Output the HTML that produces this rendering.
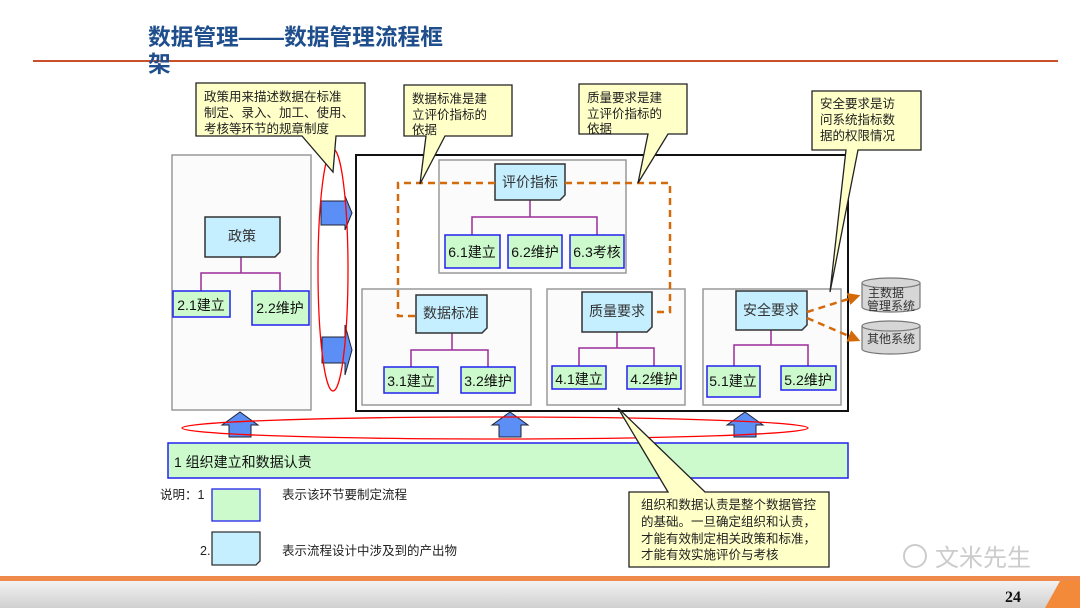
<!DOCTYPE html>
<html><head><meta charset="utf-8"><style>
body{margin:0;width:1080px;height:608px;overflow:hidden;background:#fff;font-family:"Liberation Sans","Noto Sans CJK SC",sans-serif}
svg text{font-family:"Liberation Sans","Noto Sans CJK SC",sans-serif}
.s{font-family:"Liberation Serif","Noto Serif CJK SC",serif}
</style></head><body>
<svg width="1080" height="608" viewBox="0 0 1080 608" xmlns="http://www.w3.org/2000/svg">
<defs>
<linearGradient id="ft" x1="0" y1="0" x2="0" y2="1"><stop offset="0" stop-color="#f2f2f2"/><stop offset="1" stop-color="#d0d0d0"/></linearGradient>
<marker id="ah" viewBox="0 0 10 10" refX="8" refY="5" markerWidth="5" markerHeight="5" orient="auto"><path d="M0,0L10,5L0,10z" fill="#d46a0a"/></marker>
</defs>
<!-- title -->
<text x="148" y="45" font-size="22.7" font-weight="bold" fill="#1f4e8c">数据管理——数据管理流程框</text>
<line x1="33" y1="61" x2="1058" y2="61" stroke="#c8502a" stroke-width="2"/>
<text x="148" y="72" font-size="22.7" font-weight="bold" fill="#1f4e8c">架</text>

<!-- left box -->
<rect x="172" y="155" width="139" height="255" fill="#fbfbfb" stroke="#999" stroke-width="1.5"/>
<!-- main box -->
<rect x="356" y="155" width="492" height="256" fill="#fff" stroke="#111" stroke-width="2"/>
<rect x="439" y="160" width="187" height="113" fill="#fbfbfb" stroke="#999" stroke-width="1.5"/>
<rect x="362" y="289" width="169" height="116" fill="#fbfbfb" stroke="#999" stroke-width="1.5"/>
<rect x="547" y="289" width="138" height="116" fill="#fbfbfb" stroke="#999" stroke-width="1.5"/>
<rect x="703" y="289" width="138" height="116" fill="#fbfbfb" stroke="#999" stroke-width="1.5"/>

<!-- purple connectors -->
<g stroke="#9b2d9b" stroke-width="1.5" fill="none">
<path d="M241,257V273M201,291V273H280V291"/>
<path d="M530,200V217M472,235V217H597V235"/>
<path d="M452,333V350M411,367V350H488V367"/>
<path d="M617,332V348M579,366V348H654V366"/>
<path d="M771,330V345M734,366V345H808V366"/>
</g>

<!-- blue nodes with dog ear -->
<g fill="#c5eefe" stroke="#333" stroke-width="1.5">
<path d="M205,217H280V252L275,257H205Z"/>
<path d="M495,164H565V195L560,200H495Z"/>
<path d="M416,295H487V328L482,333H416Z"/>
<path d="M582,292H652V327L647,332H582Z"/>
<path d="M736,291H807V325L802,330H736Z"/>
</g>
<g font-size="14" fill="#333" text-anchor="middle">
<text x="242" y="241">政策</text>
<text x="530" y="187">评价指标</text>
<text x="451" y="318">数据标准</text>
<text x="617" y="316">质量要求</text>
<text x="771" y="315">安全要求</text>
</g>

<!-- green nodes -->
<g fill="#ccfacc" stroke="#2222ee" stroke-width="1.5">
<rect x="173" y="291" width="57" height="26"/><rect x="252" y="291" width="57" height="34"/>
<rect x="445" y="235" width="55" height="33"/><rect x="508" y="235" width="54" height="33"/><rect x="570" y="235" width="54" height="33"/>
<rect x="384" y="367" width="54" height="26"/><rect x="461" y="367" width="54" height="26"/>
<rect x="552" y="366" width="54" height="23"/><rect x="627" y="366" width="54" height="23"/>
<rect x="707" y="366" width="53" height="31"/><rect x="781" y="366" width="55" height="24"/>
</g>
<g font-size="14" fill="#111" text-anchor="middle">
<text x="201" y="310">2.1建立</text><text x="280" y="313">2.2维护</text>
<text x="472" y="257">6.1建立</text><text x="535" y="257">6.2维护</text><text x="597" y="257">6.3考核</text>
<text x="411" y="386">3.1建立</text><text x="488" y="386">3.2维护</text>
<text x="579" y="384">4.1建立</text><text x="654" y="384">4.2维护</text>
<text x="733" y="386">5.1建立</text><text x="808" y="385">5.2维护</text>
</g>

<!-- orange dashed -->
<g stroke="#d46a0a" stroke-width="2.5" stroke-dasharray="7,5" fill="none">
<path d="M495,183H398V316H416"/>
<path d="M565,183H670V312H652"/>
<path d="M807,312L858,296" marker-end="url(#ah)"/>
<path d="M807,318L858,340" marker-end="url(#ah)"/>
</g>

<!-- cylinders -->
<g fill="#d6d6d6" stroke="#777" stroke-width="1.2">
<path d="M862,283V307A29,5 0 0 0 920,307V283"/><ellipse cx="891" cy="283" rx="29" ry="5"/>
<path d="M862,326V349A29,5 0 0 0 920,349V326"/><ellipse cx="891" cy="326" rx="29" ry="5"/>
</g>
<g font-size="12" fill="#333" text-anchor="middle">
<text x="886" y="297">主数据</text><text x="891" y="310">管理系统</text>
<text x="891" y="343">其他系统</text>
</g>

<!-- arrows -->
<g fill="#5b8ff5" stroke="#223" stroke-width="1">
<path d="M321,201H345V196L352,213L345,230V225H321Z"/>
<path d="M322,337H345V325L352,350L345,375V363H322Z"/>
<path d="M222,425L240,412L258,425H251V437H229V425Z"/>
<path d="M492,425L510,412L528,425H521V437H499V425Z"/>
<path d="M727,425L745,412L763,425H756V437H734V425Z"/>
</g>
<ellipse cx="333" cy="270" rx="15" ry="121" fill="none" stroke="#f00" stroke-width="1.3"/>
<ellipse cx="495" cy="428" rx="313" ry="11" fill="none" stroke="#f00" stroke-width="1.3"/>

<!-- green bar -->
<rect x="168" y="443" width="680" height="35" fill="#ccfacc" stroke="#2222ee" stroke-width="1.5"/>
<text x="174" y="467" font-size="14" fill="#111">1 组织建立和数据认责</text>

<!-- callouts -->
<g fill="#ffffc8" stroke="#222" stroke-width="1.3">
<path d="M196,83H365V136H336L333,172L302,136H196Z"/>
<path d="M404,85H512V136H445L420,184L426,136H404Z"/>
<path d="M579,84H687V134H668L638,183L648,134H579Z"/>
<path d="M812,91H921V150H858L830,292L846,150H812Z"/>
<path d="M629,492H668L618,408L705,492H829V567H629Z"/>
</g>
<g class="s" font-size="12.5" fill="#222">
<text x="204" y="101">政策用来描述数据在标准</text><text x="204" y="117">制定、录入、加工、使用、</text><text x="204" y="133">考核等环节的规章制度</text>
<text x="412" y="103">数据标准是建</text><text x="412" y="119">立评价指标的</text><text x="412" y="134">依据</text>
<text x="587" y="102">质量要求是建</text><text x="587" y="118">立评价指标的</text><text x="587" y="133">依据</text>
<text x="820" y="108">安全要求是访</text><text x="820" y="124">问系统指标数</text><text x="820" y="140">据的权限情况</text>
<text x="641" y="509">组织和数据认责是整个数据管控</text><text x="641" y="526">的基础。一旦确定组织和认责，</text><text x="641" y="543">才能有效制定相关政策和标准，</text><text x="641" y="559">才能有效实施评价与考核</text>
</g>

<!-- legend -->
<g class="s" font-size="12.5" fill="#222">
<text x="160" y="499">说明：1</text><text x="200" y="555">2.</text>
<text x="282" y="499">表示该环节要制定流程</text><text x="282" y="555">表示流程设计中涉及到的产出物</text>
</g>
<rect x="212" y="489" width="48" height="32" fill="#ccfacc" stroke="#2222ee" stroke-width="1.3"/>
<path d="M212,532H260V561L256,565H212Z" fill="#c5eefe" stroke="#333" stroke-width="1.3"/>

<!-- watermark -->
<text x="935" y="566" font-size="24" fill="#ccc">文米先生</text>
<circle cx="915" cy="556" r="11" fill="none" stroke="#ccc" stroke-width="2"/>

<!-- footer -->
<rect x="0" y="576" width="1080" height="5" fill="#f08a4a"/>
<rect x="0" y="581" width="1080" height="27" fill="url(#ft)"/>
<path d="M1045,608L1060,581H1080V608Z" fill="#f28a3a"/>
<text x="1005" y="602" class="s" font-size="16" font-weight="bold" fill="#111">24</text>
</svg>
</body></html>
